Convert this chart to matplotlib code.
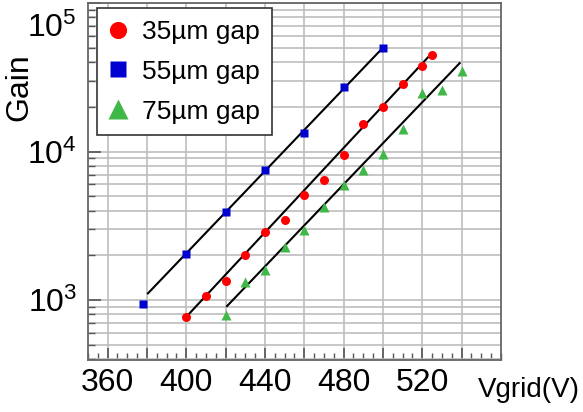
import matplotlib
matplotlib.use("Agg")
import matplotlib.pyplot as plt
import matplotlib.transforms as mtransforms
from matplotlib.ticker import FixedLocator, FixedFormatter, LogLocator, MultipleLocator, NullFormatter

plt.rcParams['font.family'] = ['Liberation Sans', 'DejaVu Sans']
plt.rcParams['mathtext.fontset'] = 'custom'
plt.rcParams['mathtext.rm'] = 'Liberation Sans'
plt.rcParams['mathtext.it'] = 'Liberation Sans'
plt.rcParams['mathtext.default'] = 'regular'

# ---- data ----
v35 = [400, 410, 420, 430, 440, 450, 460, 470, 480, 490, 500, 510, 520, 525]
g35 = [771, 1069, 1349, 2014, 2891, 3471, 5115, 6470, 9550, 15380, 19900, 28640, 37670, 44560]

v55 = [378, 400, 420, 440, 460, 480, 500]
g55 = [940, 2046, 3918, 7536, 13300, 27010, 50100]

v75 = [420, 430, 440, 450, 460, 470, 480, 490, 500, 510, 520, 530, 540]
g75 = [792, 1330, 1596, 2291, 2972, 4266, 5982, 7480, 9680, 14080, 24950, 25950, 34900]

# fitted exponential lines (end points)
fit35_v = [400.8, 522.8]
fit35_g = [792, 42950]
fit55_v = [380.5, 499.0]
fit55_g = [1110, 48500]
fit75_v = [420.7, 539.0]
fit75_g = [911, 39370]

labels = ['35\u00b5m gap', '55\u00b5m gap', '75\u00b5m gap']

xticks = [360, 380, 400, 420, 440, 460, 480, 500, 520, 540]
xtick_labels = ['360', '', '400', '', '440', '', '480', '', '520', '']
yticks = [1e3, 1e4, 1e5]
ytick_labels = ['$10^{3}$', '$10^{4}$', '$10^{5}$']

# ---- figure ----
fig = plt.figure(figsize=(5.83, 4.12), dpi=100)
ax = fig.add_axes([0.1509, 0.1262, 0.7084, 0.8665])
ax.set_yscale('log')

ax.plot(fit35_v, fit35_g, color='black', lw=1.5, zorder=3)
ax.plot(fit55_v, fit55_g, color='black', lw=1.5, zorder=3)
ax.plot(fit75_v, fit75_g, color='black', lw=1.5, zorder=3)

ax.plot(v35, g35, 'o', color='#ff0000', ms=6.5, mec='none', label=labels[0], zorder=4)
ax.plot(v55, g55, 's', color='#0000d0', ms=6.0, mec='none', label=labels[1], zorder=4)
ax.plot(v75, g75, '^', color='#40b848', ms=7.8, mec='none', label=labels[2], zorder=4)

ax.set_xlim(350, 560)
ax.set_ylim(395, 1e5)

ax.xaxis.set_major_locator(FixedLocator(xticks))
ax.xaxis.set_major_formatter(FixedFormatter(xtick_labels))
ax.xaxis.set_minor_locator(MultipleLocator(5))

ax.yaxis.set_major_locator(FixedLocator(yticks))
ax.yaxis.set_major_formatter(FixedFormatter(ytick_labels))
ax.yaxis.set_minor_locator(LogLocator(base=10, subs=range(2, 10), numticks=20))
ax.yaxis.set_minor_formatter(NullFormatter())

ax.grid(True, which='major', color='#bdbdbd', lw=1.2, zorder=0)
ax.grid(True, which='minor', axis='y', color='#bdbdbd', lw=1.2, zorder=0)
ax.set_axisbelow(True)

ax.tick_params(which='both', direction='in', colors='#555555', labelcolor='black')
ax.tick_params(which='major', length=9, width=1.2, labelsize=23, pad=6)
ax.tick_params(which='minor', length=5, width=1.0)
ax.tick_params(axis='y', which='major', pad=8)

for s in ax.spines.values():
    s.set_color('#666666')
    s.set_linewidth(1.3)

# shift the top label down so it stays in the figure
ytk = ax.yaxis.get_major_ticks()
ytk[2].label1.set_va('top')
ytk[2].label1.set_transform(ytk[2].label1.get_transform() +
                            mtransforms.ScaledTranslation(0, -7 / 72, fig.dpi_scale_trans))

ax.set_ylabel('Gain', fontsize=23, va='center', ha='center')
ax.yaxis.set_label_coords(-0.165, 0.765)
ax.set_xlabel('Vgrid(V)', fontsize=20, ha='left', va='center')
ax.xaxis.set_label_coords(0.944, -0.084)

leg = ax.legend(loc='upper left', bbox_to_anchor=(0.022, 0.986), borderaxespad=0,
                fontsize=19, markerscale=1.9, fancybox=False, framealpha=1,
                edgecolor='#333333', handlelength=0.7, handletextpad=0.55,
                labelspacing=0.6, borderpad=0.45)
leg.get_frame().set_linewidth(1.2)

fig.savefig('out.png', dpi=100)
